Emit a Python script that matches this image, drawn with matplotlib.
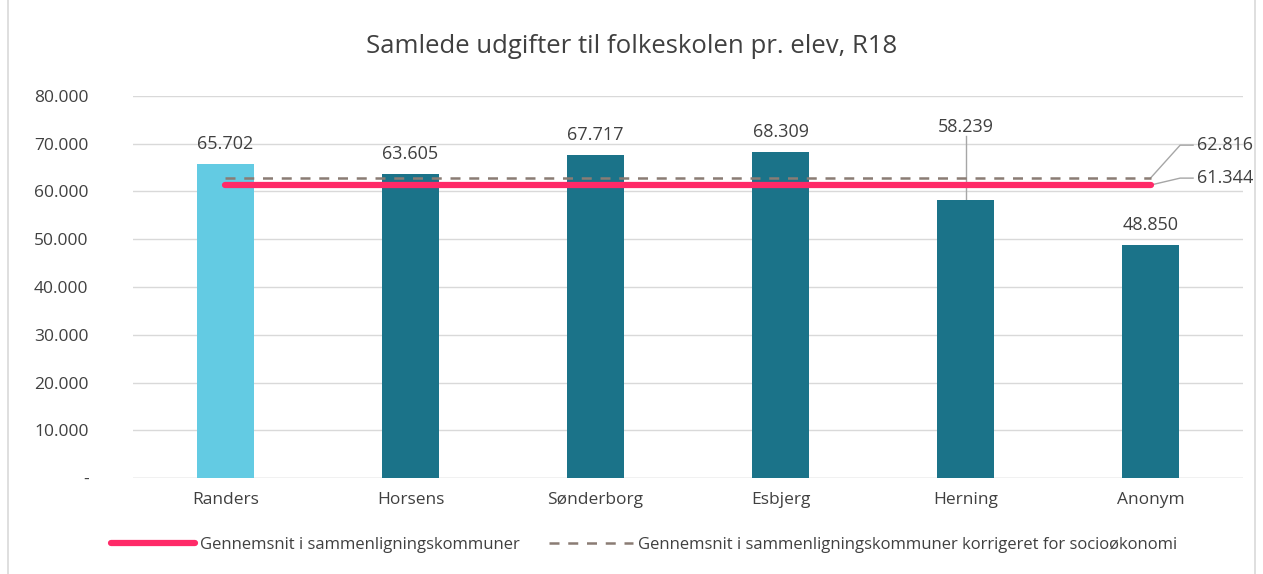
import matplotlib.pyplot as plt
from matplotlib.lines import Line2D
from matplotlib.patches import Rectangle

kommuner = ['Randers', 'Horsens', 'Sønderborg', 'Esbjerg', 'Herning', 'Anonym']
udgifter = [65702, 63605, 67717, 68309, 58239, 48850]
gennemsnit = 61344
korrigeret = 62816
y_ticks = [0, 10000, 20000, 30000, 40000, 50000, 60000, 70000, 80000]
y_labels = ['-', '10.000', '20.000', '30.000', '40.000', '50.000', '60.000', '70.000', '80.000']

txt = '#404040'
bar_colors = ['#63CBE3'] + ['#1B7389'] * 5
red = '#FF2A68'
dash = '#8A7C74'

plt.rcParams['font.family'] = ['Open Sans', 'DejaVu Sans']

fig = plt.figure(figsize=(12.63, 5.74), dpi=100)
ax = fig.add_axes([0.1053, 0.1672, 0.8789, 0.6656])

x = list(range(len(kommuner)))
ax.bar(x, udgifter, width=0.31, color=bar_colors, zorder=2)
ax.set_xlim(-0.5, len(kommuner) - 0.5)
ax.set_ylim(0, 80000)

# average lines from first to last category
ax.plot([x[0], x[-1]], [gennemsnit, gennemsnit], color=red, lw=4.5, solid_capstyle='round', zorder=4)
ax.plot([x[0], x[-1]], [korrigeret, korrigeret], color=dash, lw=1.8, ls=(0, (4, 3.5)), zorder=3)

# data labels
for i, v in enumerate(udgifter):
    lab = f'{v:,}'.replace(',', '.')
    if kommuner[i] == 'Herning':
        ax.text(i, 71700, lab, ha='center', va='bottom', fontsize=13, color=txt)
        ax.plot([i, i], [v, 71600], color='#A6A6A6', lw=1, zorder=1)
    else:
        ax.annotate(lab, (i, v), xytext=(0, 8), textcoords='offset points',
                    ha='center', va='bottom', fontsize=13, color=txt)

# right side labels with leader lines
for val, ylab in [(korrigeret, 69700), (gennemsnit, 62800)]:
    ax.plot([x[-1], x[-1] + 0.16, x[-1] + 0.23], [val, ylab, ylab], color='#A6A6A6', lw=1,
            clip_on=False, zorder=1)
    ax.text(x[-1] + 0.25, ylab, f'{val:,}'.replace(',', '.'), ha='left', va='center',
            fontsize=13, color=txt, clip_on=False)

ax.set_yticks(y_ticks)
ax.set_yticklabels(y_labels)
ax.set_xticks(x)
ax.set_xticklabels(kommuner)
ax.tick_params(axis='both', length=0, labelsize=12.5, labelcolor=txt)
ax.tick_params(axis='y', pad=32)
ax.tick_params(axis='x', pad=10)
ax.grid(axis='y', color='#D9D9D9', lw=1, zorder=0)
ax.set_axisbelow(True)
for s in ax.spines.values():
    s.set_visible(False)
ax.axhline(0, color='#D9D9D9', lw=1, zorder=1)

fig.suptitle('Samlede udgifter til folkeskolen pr. elev, R18', y=0.94, fontsize=18.5, color=txt)

handles = [Line2D([], [], color=red, lw=4.5, solid_capstyle='round'),
           Line2D([], [], color=dash, lw=1.8, ls=(0, (4, 3.5)))]
fig.legend(handles, ['Gennemsnit i sammenligningskommuner',
                     'Gennemsnit i sammenligningskommuner korrigeret for socioøkonomi'],
           loc='center', bbox_to_anchor=(0.51, 0.05), ncol=2, frameon=False,
           fontsize=12, labelcolor=txt, handlelength=5.0, handletextpad=0.3, columnspacing=1.8)

fig.patches.append(Rectangle((0.006, -0.01), 0.988, 1.02, transform=fig.transFigure,
                             fill=False, edgecolor='#D9D9D9', lw=1.2))

fig.savefig('out.png', dpi=100)
